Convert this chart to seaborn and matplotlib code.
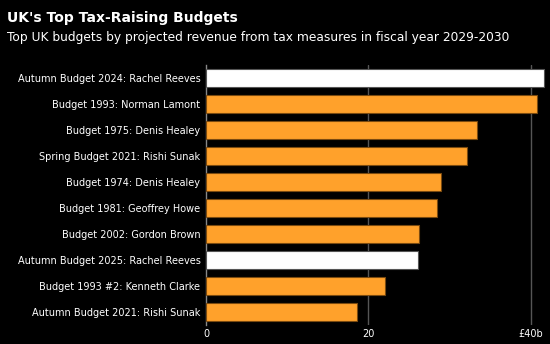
import matplotlib
matplotlib.use("Agg")
import matplotlib.pyplot as plt
import seaborn as sns
import pandas as pd

budgets = [
    "Autumn Budget 2024: Rachel Reeves",
    "Budget 1993: Norman Lamont",
    "Budget 1975: Denis Healey",
    "Spring Budget 2021: Rishi Sunak",
    "Budget 1974: Denis Healey",
    "Budget 1981: Geoffrey Howe",
    "Budget 2002: Gordon Brown",
    "Autumn Budget 2025: Rachel Reeves",
    "Budget 1993 #2: Kenneth Clarke",
    "Autumn Budget 2021: Rishi Sunak",
]
revenue = [41.6, 40.8, 33.4, 32.2, 28.9, 28.4, 26.2, 26.1, 22.1, 18.6]
highlight = [True, False, False, False, False, False, False, True, False, False]
xticks = [0, 20, 40]
xticklabels = ["0", "20", "£40b"]

df = pd.DataFrame({"budget": budgets, "revenue": revenue,
                   "group": ["hl" if h else "other" for h in highlight]})

sns.set_style("dark")
plt.rcParams["font.family"] = ["DejaVu Sans"]

fig = plt.figure(figsize=(5.5, 3.44), dpi=100, facecolor="black")
ax = fig.add_axes([0.3745, 0.055, 0.62, 0.756])
ax.set_facecolor("black")

palette = {"hl": "#FFFFFF", "other": "#FFA12B"}
sns.barplot(data=df, y="budget", x="revenue", hue="group", palette=palette,
            dodge=False, legend=False, width=0.7, saturation=1, ax=ax, zorder=3)
for bar in ax.patches:
    fc = bar.get_facecolor()
    if fc[0] > 0.99 and fc[1] > 0.99:
        bar.set_edgecolor("#555555")
    else:
        bar.set_edgecolor("#7a4a10")
    bar.set_linewidth(0.8)

ax.set_xlim(0, 42)
ax.set_xticks(xticks)
ax.set_xticklabels(xticklabels)
ax.set_xlabel("")
ax.set_ylabel("")
ax.grid(False)
for x in xticks[1:]:
    ax.axvline(x, color="#555555", lw=1, zorder=1)
for s in ["top", "right", "bottom"]:
    ax.spines[s].set_visible(False)
ax.spines["left"].set_visible(True)
ax.spines["left"].set_color("#888888")
ax.spines["left"].set_linewidth(1)
ax.tick_params(axis="both", length=0, colors="white", labelsize=7.0, pad=4)
ax.tick_params(axis="x", pad=3)

fig.text(0.013, 0.947, "UK's Top Tax-Raising Budgets", color="white",
         fontsize=10, fontweight="bold", va="center")
fig.text(0.013, 0.892, "Top UK budgets by projected revenue from tax measures in fiscal year 2029-2030",
         color="white", fontsize=8.85, va="center")

fig.savefig("out.png", dpi=100, facecolor="black")
